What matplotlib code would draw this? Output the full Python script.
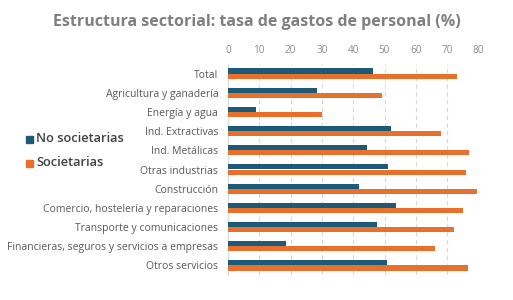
import matplotlib
matplotlib.use("Agg")
import matplotlib.pyplot as plt
import numpy as np
from matplotlib.patches import Rectangle

categories = ["Total", "Agricultura y ganadería", "Energía y agua", "Ind. Extractivas",
              "Ind. Metálicas", "Otras industrias", "Construcción",
              "Comercio, hostelería y reparaciones", "Transporte y comunicaciones",
              "Financieras, seguros y servicios a empresas", "Otros servicios"]
no_societarias = [46.4, 28.5, 9.0, 52.2, 44.5, 51.2, 41.9, 53.8, 47.7, 18.6, 50.9]
societarias = [73.2, 49.3, 30.1, 68.1, 77.0, 76.1, 79.5, 75.1, 72.2, 66.1, 76.7]
xticks = [0, 10, 20, 30, 40, 50, 60, 70, 80]

BLUE = "#1d5a78"
ORANGE = "#e8702a"
GREY = "#7f7f7f"
font = "Open Sans"

fig = plt.figure(figsize=(5.13, 3.0), dpi=100)
ax = fig.add_axes([228/513, 1 - 275/300, (478.5-228)/513, (275-64)/300])

y = np.arange(len(categories))
h = 0.27
ax.barh(y - h/2, no_societarias, height=h, color=BLUE, zorder=3)
ax.barh(y + h/2, societarias, height=h, color=ORANGE, zorder=3)

ax.set_ylim(len(categories) - 0.5, -0.5)
ax.set_xlim(0, 80)
ax.set_xticks(xticks)
ax.xaxis.tick_top()
ax.tick_params(axis="x", length=0, pad=6, labelsize=7.2, labelcolor="#8c8c8c")
ax.tick_params(axis="y", length=0, pad=7, labelsize=7.5, labelcolor="#595959")
ax.set_yticks(y)
ax.set_yticklabels(categories, fontfamily=font)
for lab in ax.get_xticklabels():
    lab.set_fontfamily(font)
ax.grid(axis="x", color="#d9d9d9", linestyle=(0, (4, 3)), linewidth=0.8, zorder=0)
for s in ["top", "right", "bottom"]:
    ax.spines[s].set_visible(False)
ax.spines["left"].set_color("#d9d9d9")
ax.spines["left"].set_linewidth(0.8)

fig.text(0.5, 1 - 22/300, "Estructura sectorial: tasa de gastos de personal (%)",
         ha="center", va="center", fontsize=11.5, fontweight="bold", color=GREY,
         fontfamily=font)

# legend
for ypix, label, col in [(139, "No societarias", BLUE), (163, "Societarias", ORANGE)]:
    fig.patches.append(Rectangle((26/513, 1 - (ypix + 3.5)/300), 7/513, 7/300,
                                 transform=fig.transFigure, color=col))
    fig.text(36/513, 1 - ypix/300, label, ha="left", va="center", fontsize=9.2,
             fontweight="semibold", color="#404040", fontfamily=font)

fig.savefig("out.png", dpi=100)
